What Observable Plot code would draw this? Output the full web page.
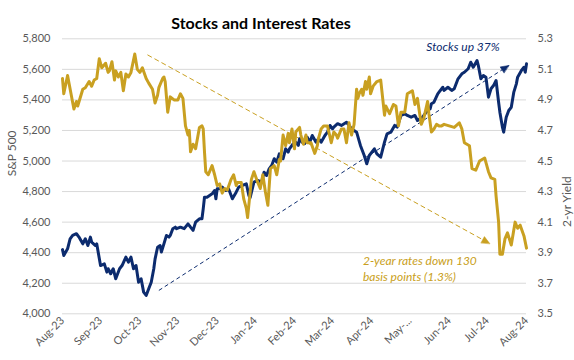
<!DOCTYPE html>
<html><head><meta charset="utf-8">
<script src="https://cdn.jsdelivr.net/npm/d3@7"></script>
<script src="https://cdn.jsdelivr.net/npm/@observablehq/plot@0.6"></script>
<style>
body{margin:0;background:#fff;}
#wrap{position:relative;width:574px;height:360px;font-family:Lato,sans-serif;}
#title{position:absolute;top:12px;left:0;width:522px;text-align:center;font-weight:bold;font-size:16px;color:#000;line-height:22px;z-index:2;}
</style></head><body>
<div id="wrap"><div id="title">Stocks and Interest Rates</div></div>
<script>
const title = "Stocks and Interest Rates";
const leftLabel = "S&P 500";
const rightLabel = "2-yr Yield";
const xTickDates = ["2023-08-22","2023-09-21","2023-10-22","2023-11-21","2023-12-22","2024-01-21","2024-02-21","2024-03-22","2024-04-22","2024-05-22","2024-06-22","2024-07-22","2024-08-22"];
const xTickLabels = ["Aug-23","Sep-23","Oct-23","Nov-23","Dec-23","Jan-24","Feb-24","Mar-24","Apr-24","May-...","Jun-24","Jul-24","Aug-24"];
const leftTicks = [4000,4200,4400,4600,4800,5000,5200,5400,5600,5800];
const rightTicks = [3.5,3.7,3.9,4.1,4.3,4.5,4.7,4.9,5.1,5.3];

const spx = [["2023-08-22",4420],["2023-08-23",4382],["2023-08-26",4425],["2023-08-28",4491],["2023-08-30",4513],["2023-09-02",4524],["2023-09-04",4502],["2023-09-07",4458],["2023-09-09",4491],["2023-09-11",4447],["2023-09-13",4502],["2023-09-14",4469],["2023-09-17",4447],["2023-09-18",4458],["2023-09-21",4316],["2023-09-24",4327],["2023-09-26",4273],["2023-09-27",4295],["2023-09-29",4262],["2023-10-01",4295],["2023-10-03",4229],["2023-10-06",4295],["2023-10-08",4316],["2023-10-11",4371],["2023-10-13",4338],["2023-10-15",4371],["2023-10-17",4295],["2023-10-19",4316],["2023-10-21",4207],["2023-10-23",4229],["2023-10-25",4142],["2023-10-27",4120],["2023-10-29",4164],["2023-10-31",4207],["2023-11-02",4295],["2023-11-03",4358],["2023-11-05",4436],["2023-11-07",4447],["2023-11-08",4404],["2023-11-10",4458],["2023-11-12",4513],["2023-11-14",4502],["2023-11-15",4513],["2023-11-17",4557],["2023-11-19",4567],["2023-11-20",4557],["2023-11-23",4567],["2023-11-26",4557],["2023-11-29",4589],["2023-12-01",4567],["2023-12-03",4546],["2023-12-05",4600],["2023-12-08",4622],["2023-12-10",4622],["2023-12-11",4687],["2023-12-12",4763],["2023-12-14",4763],["2023-12-16",4774],["2023-12-18",4785],["2023-12-20",4807],["2023-12-21",4753],["2023-12-22",4818],["2023-12-24",4818],["2023-12-26",4829],["2023-12-29",4807],["2023-12-31",4818],["2024-01-03",4753],["2024-01-06",4796],["2024-01-08",4829],["2024-01-11",4840],["2024-01-14",4851],["2024-01-16",4774],["2024-01-17",4760],["2024-01-20",4862],["2024-01-23",4873],["2024-01-26",4862],["2024-01-28",4927],["2024-01-30",4905],["2024-02-01",4949],["2024-02-03",4971],["2024-02-05",5015],["2024-02-07",4993],["2024-02-09",5047],["2024-02-12",5015],["2024-02-14",5080],["2024-02-16",5058],["2024-02-17",5080],["2024-02-20",5113],["2024-02-22",5123],["2024-02-24",5102],["2024-02-25",5146],["2024-02-27",5123],["2024-02-29",5113],["2024-03-02",5156],["2024-03-04",5123],["2024-03-06",5167],["2024-03-09",5123],["2024-03-11",5146],["2024-03-13",5123],["2024-03-16",5167],["2024-03-18",5189],["2024-03-20",5233],["2024-03-22",5211],["2024-03-23",5222],["2024-03-26",5244],["2024-03-29",5233],["2024-04-02",5254],["2024-04-04",5233],["2024-04-06",5211],["2024-04-08",5200],["2024-04-10",5189],["2024-04-13",5102],["2024-04-16",5036],["2024-04-18",4982],["2024-04-20",5036],["2024-04-22",5058],["2024-04-24",5080],["2024-04-26",5047],["2024-04-29",5025],["2024-05-02",5123],["2024-05-04",5178],["2024-05-07",5189],["2024-05-10",5233],["2024-05-12",5222],["2024-05-15",5298],["2024-05-18",5309],["2024-05-20",5298],["2024-05-23",5287],["2024-05-26",5298],["2024-05-28",5265],["2024-05-30",5276],["2024-06-01",5287],["2024-06-05",5331],["2024-06-07",5342],["2024-06-08",5375],["2024-06-10",5385],["2024-06-13",5440],["2024-06-14",5451],["2024-06-17",5483],["2024-06-18",5462],["2024-06-21",5483],["2024-06-24",5462],["2024-06-26",5473],["2024-06-29",5538],["2024-07-02",5571],["2024-07-04",5581],["2024-07-07",5604],["2024-07-09",5647],["2024-07-11",5614],["2024-07-14",5658],["2024-07-15",5625],["2024-07-17",5538],["2024-07-19",5560],["2024-07-21",5549],["2024-07-23",5418],["2024-07-25",5473],["2024-07-27",5494],["2024-07-29",5527],["2024-07-31",5385],["2024-08-01",5320],["2024-08-03",5222],["2024-08-04",5189],["2024-08-06",5287],["2024-08-08",5331],["2024-08-10",5352],["2024-08-12",5451],["2024-08-14",5505],["2024-08-15",5549],["2024-08-18",5593],["2024-08-20",5614],["2024-08-21",5581],["2024-08-22",5636]];

const yields = [["2023-08-22",5.04],["2023-08-23",4.94],["2023-08-26",5.06],["2023-08-31",4.84],["2023-09-02",4.89],["2023-09-03",4.86],["2023-09-07",4.97],["2023-09-09",4.98],["2023-09-12",5.02],["2023-09-14",4.99],["2023-09-16",5.03],["2023-09-18",5.04],["2023-09-20",5.17],["2023-09-22",5.11],["2023-09-25",5.14],["2023-09-27",5.08],["2023-09-28",5.09],["2023-09-30",5.15],["2023-10-02",5.03],["2023-10-03",5.09],["2023-10-05",5.05],["2023-10-07",5.08],["2023-10-09",4.96],["2023-10-11",5.07],["2023-10-13",5.05],["2023-10-15",5.08],["2023-10-18",5.20],["2023-10-20",5.10],["2023-10-22",5.08],["2023-10-24",5.11],["2023-10-27",5.04],["2023-10-29",5.01],["2023-11-01",4.97],["2023-11-03",4.88],["2023-11-05",4.93],["2023-11-06",4.98],["2023-11-09",5.04],["2023-11-10",5.05],["2023-11-11",5.02],["2023-11-13",4.82],["2023-11-15",4.92],["2023-11-18",4.90],["2023-11-21",4.90],["2023-11-23",4.94],["2023-11-25",4.91],["2023-11-27",4.73],["2023-11-29",4.67],["2023-11-30",4.70],["2023-12-01",4.56],["2023-12-03",4.61],["2023-12-05",4.58],["2023-12-08",4.72],["2023-12-10",4.73],["2023-12-11",4.71],["2023-12-12",4.56],["2023-12-13",4.43],["2023-12-15",4.41],["2023-12-17",4.45],["2023-12-18",4.47],["2023-12-20",4.41],["2023-12-22",4.34],["2023-12-24",4.35],["2023-12-26",4.29],["2023-12-28",4.32],["2023-12-30",4.31],["2024-01-02",4.38],["2024-01-04",4.41],["2024-01-06",4.34],["2024-01-07",4.36],["2024-01-10",4.36],["2024-01-12",4.25],["2024-01-14",4.19],["2024-01-15",4.13],["2024-01-18",4.38],["2024-01-20",4.43],["2024-01-23",4.36],["2024-01-25",4.32],["2024-01-27",4.41],["2024-01-29",4.30],["2024-01-31",4.21],["2024-02-02",4.45],["2024-02-05",4.47],["2024-02-07",4.41],["2024-02-09",4.51],["2024-02-10",4.50],["2024-02-12",4.67],["2024-02-14",4.60],["2024-02-16",4.68],["2024-02-17",4.62],["2024-02-19",4.71],["2024-02-21",4.58],["2024-02-22",4.69],["2024-02-25",4.72],["2024-02-26",4.67],["2024-02-28",4.61],["2024-03-01",4.67],["2024-03-02",4.62],["2024-03-05",4.62],["2024-03-08",4.55],["2024-03-10",4.60],["2024-03-11",4.65],["2024-03-13",4.71],["2024-03-15",4.73],["2024-03-18",4.73],["2024-03-21",4.62],["2024-03-23",4.69],["2024-03-25",4.67],["2024-03-26",4.65],["2024-03-29",4.71],["2024-03-31",4.71],["2024-04-02",4.62],["2024-04-04",4.75],["2024-04-06",4.67],["2024-04-08",4.74],["2024-04-10",4.97],["2024-04-11",4.91],["2024-04-12",4.94],["2024-04-14",4.97],["2024-04-15",4.93],["2024-04-17",5.02],["2024-04-18",4.97],["2024-04-20",5.05],["2024-04-21",4.94],["2024-04-23",4.99],["2024-04-26",5.02],["2024-04-29",5.03],["2024-05-02",4.80],["2024-05-03",4.86],["2024-05-06",4.81],["2024-05-09",4.87],["2024-05-11",4.86],["2024-05-13",4.73],["2024-05-15",4.82],["2024-05-18",4.82],["2024-05-20",4.94],["2024-05-24",4.96],["2024-05-26",4.87],["2024-05-28",4.91],["2024-05-29",4.85],["2024-05-31",4.74],["2024-06-02",4.78],["2024-06-05",4.89],["2024-06-06",4.81],["2024-06-08",4.69],["2024-06-10",4.71],["2024-06-12",4.74],["2024-06-14",4.73],["2024-06-16",4.73],["2024-06-18",4.74],["2024-06-22",4.73],["2024-06-26",4.72],["2024-06-30",4.75],["2024-07-02",4.71],["2024-07-04",4.62],["2024-07-06",4.61],["2024-07-08",4.60],["2024-07-10",4.45],["2024-07-13",4.44],["2024-07-16",4.50],["2024-07-20",4.52],["2024-07-23",4.43],["2024-07-25",4.39],["2024-07-28",4.38],["2024-07-29",4.27],["2024-07-31",4.10],["2024-08-01",3.89],["2024-08-03",3.89],["2024-08-05",3.99],["2024-08-07",4.03],["2024-08-10",3.95],["2024-08-13",4.10],["2024-08-15",4.06],["2024-08-17",4.08],["2024-08-20",4.01],["2024-08-22",3.93]];

// annotation anchors, in data units
const stockArrow = {from: ["2023-11-06", 4153], to: ["2024-08-08", 5625]};      // S&P units
const rateArrow = {from: ["2023-10-28", 5.195], to: ["2024-07-24", 3.96]};      // yield units
const stockNote = {date: "2024-06-04", value: 5743, text: "Stocks up 37%"};      // S&P units
const rateNote = {date: "2024-04-15", value: 3.80, text: "2-year rates down 130\nbasis points (1.3%)"}; // yield units

const NAVY = "#0C2B6E", GOLD = "#C9A021", GRAY = "#595959";
const parse = d3.utcParse("%Y-%m-%d");
const toLeft = v => 4000 + (v - 3.5) * 1000;   // map yield onto S&P scale
const xDomain = [parse(xTickDates[0]), parse(xTickDates[xTickDates.length - 1])];

const spxData = spx.map(([d, v]) => ({date: parse(d), value: v}));
const yldData = yields.map(([d, v]) => ({date: parse(d), value: toLeft(v)}));

const W = 574, H = 360, mL = 62, mR = 48, mT = 38.3, mB = 46.7;
const xs = d3.scaleUtc(xDomain, [mL, W - mR]);
const ys = d3.scaleLinear([4000, 5800], [H - mB, mT]);

function arrowRows(a, conv) {
  const x1 = parse(a.from[0]), y1 = conv(a.from[1]), x2 = parse(a.to[0]), y2 = conv(a.to[1]);
  const ang = Math.atan2(ys(y2) - ys(y1), xs(x2) - xs(x1)) * 180 / Math.PI;
  return [{x1, y1, x2, y2, rot: ang + 90}];
}
const sA = arrowRows(stockArrow, v => v);
const rA = arrowRows(rateArrow, toLeft);

// filled arrowhead: tip at the anchor point, base behind it
const headShape = {draw(ctx, l, r) { ctx.moveTo(0, -l); ctx.lineTo(-r, 0); ctx.lineTo(r, 0); ctx.closePath(); }};

const plot = Plot.plot({
  width: W, height: H, marginLeft: mL, marginRight: mR, marginTop: mT, marginBottom: mB,
  style: {fontFamily: "Lato, sans-serif", fontSize: "11px", color: GRAY, background: "white"},
  x: {type: "utc", domain: xDomain},
  y: {domain: [4000, 5800]},
  marks: [
    Plot.ruleY(leftTicks, {stroke: "#D9D9D9", strokeWidth: 1}),
    Plot.axisY({anchor: "left", ticks: leftTicks, tickSize: 0, tickPadding: 12, tickFormat: d3.format(","), label: null, fill: GRAY}),
    Plot.axisY({anchor: "right", ticks: leftTicks, tickSize: 0, tickPadding: 11, tickFormat: (d, i) => rightTicks[i].toFixed(1), label: null, fill: GRAY}),
    Plot.axisX({ticks: xTickDates.map(parse), tickFormat: (d, i) => xTickLabels[i], tickRotate: -45, tickSize: 0, tickPadding: 5, label: null, fill: GRAY}),
    Plot.text([leftLabel], {text: d => d, frameAnchor: "left", dx: -50, rotate: -90, fill: GRAY, fontSize: 12}),
    Plot.text([rightLabel], {text: d => d, frameAnchor: "right", dx: 41, rotate: -90, fill: GRAY, fontSize: 12}),
    Plot.link(sA, {x1: "x1", y1: "y1", x2: "x2", y2: "y2", stroke: NAVY, strokeWidth: 1, strokeDasharray: "4,3"}),
    Plot.link(rA, {x1: "x1", y1: "y1", x2: "x2", y2: "y2", stroke: GOLD, strokeWidth: 1, strokeDasharray: "5,3"}),
    Plot.line(spxData, {x: "date", y: "value", stroke: NAVY, strokeWidth: 3, strokeLinejoin: "round"}),
    Plot.line(yldData, {x: "date", y: "value", stroke: GOLD, strokeWidth: 3, strokeLinejoin: "round"}),
    Plot.vector(sA, {x: "x2", y: "y2", rotate: "rot", length: 8, r: 3.5, anchor: "end", shape: headShape, fill: NAVY, stroke: NAVY, strokeWidth: 0.5}),
    Plot.vector(rA, {x: "x2", y: "y2", rotate: "rot", length: 8, r: 3.5, anchor: "end", shape: headShape, fill: GOLD, stroke: GOLD, strokeWidth: 0.5}),
    Plot.text([stockNote], {x: d => parse(d.date), y: "value", text: "text", textAnchor: "start", fill: NAVY, fontStyle: "italic", fontSize: 12}),
    Plot.text([rateNote], {x: d => parse(d.date), y: d => toLeft(d.value), text: "text", textAnchor: "start", lineAnchor: "middle", lineHeight: 1.35, fill: GOLD, fontStyle: "italic", fontSize: 12})
  ]
});
document.getElementById("wrap").appendChild(plot);
document.getElementById("title").textContent = title;
</script>
</body></html>
